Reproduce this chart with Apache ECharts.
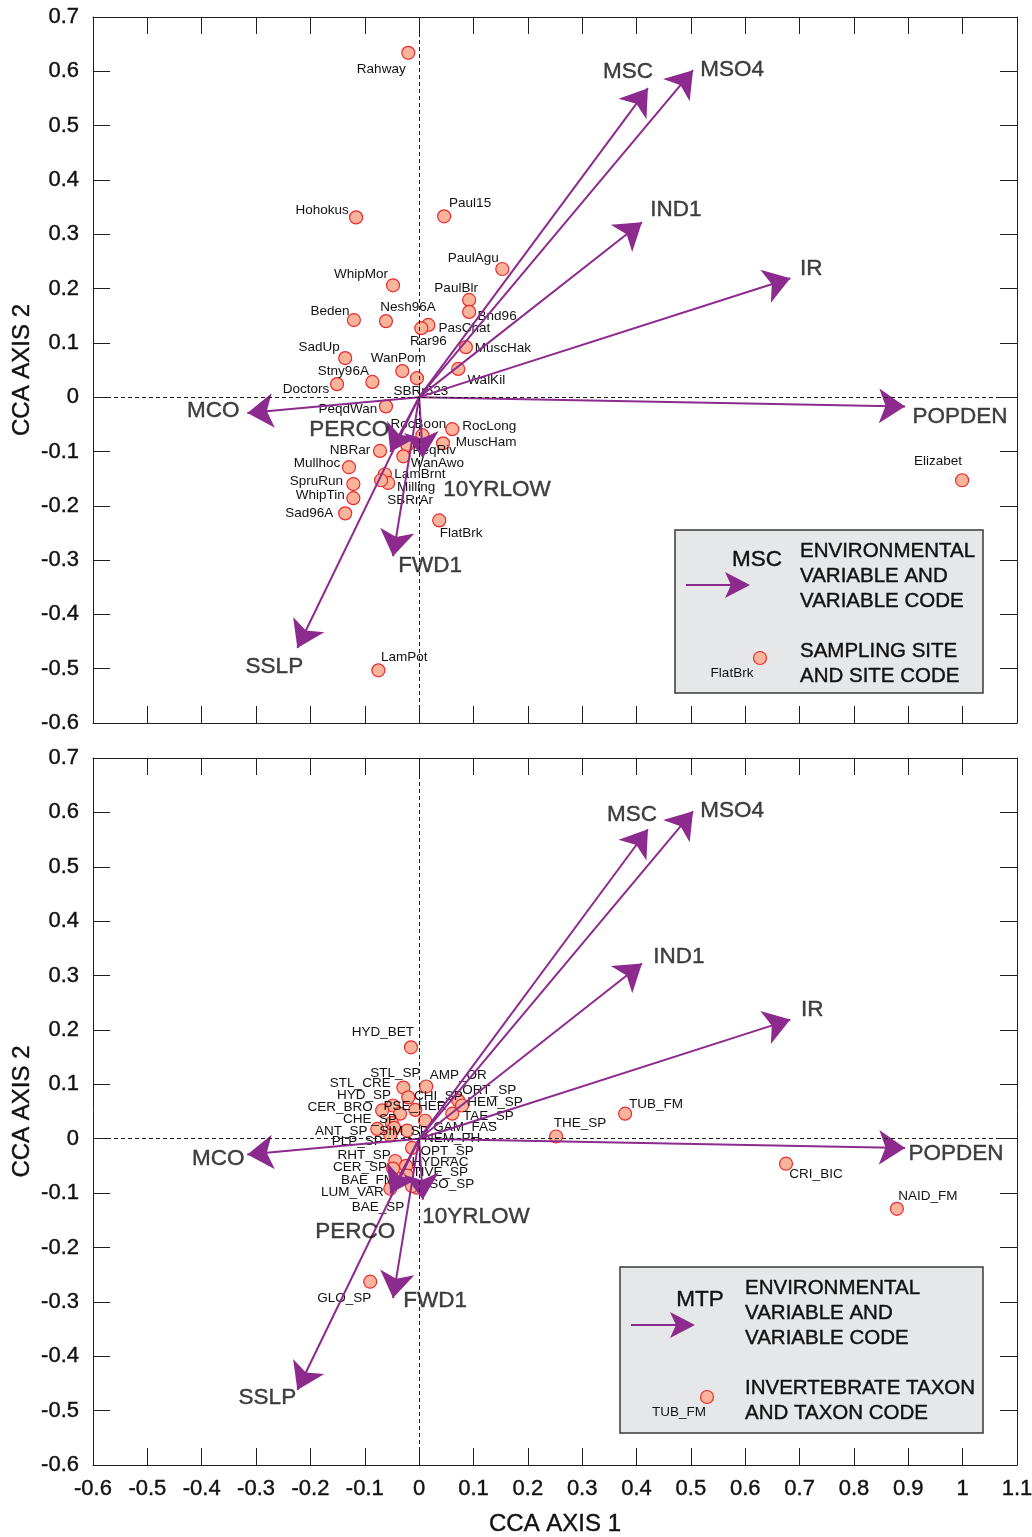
<!DOCTYPE html>
<html>
<head>
<meta charset="utf-8">
<script src="https://cdn.jsdelivr.net/npm/echarts@6/dist/echarts.min.js"></script>
<style>
  html, body { margin: 0; padding: 0; background: #fff; }
  #chart { width: 1032px; height: 1537px; }
</style>
</head>
<body>
<div id="chart"></div>
<script>
// environmental variables (same biplot vectors in both panels)
const envVars = ['MSC', 'MSO4', 'IND1', 'IR', 'POPDEN', 'MCO', 'SSLP', 'FWD1', 'PERCO', '10YRLOW'];
const envAxis1 = [0.421, 0.504, 0.410, 0.683, 0.894, -0.316, -0.224, -0.048, -0.053, 0.007];
const envAxis2 = [0.569, 0.602, 0.322, 0.219, -0.017, -0.029, -0.462, -0.293, -0.101, -0.112];

// sampling sites (top panel)
const sites = ['Rahway', 'Hohokus', 'Paul15', 'PaulAgu', 'WhipMor', 'PaulBlr', 'Bnd96', 'Beden', 'Nesh96A',
  'PasChat', 'Rar96', 'MuscHak', 'SadUp', 'WanPom', 'WalKil', 'Stny96A', 'Doctors', 'SBRr523', 'PeqdWan',
  'RocBoon', 'RocLong', 'MuscHam', 'NBRar', 'PeqRiv', 'WanAwo', 'Mullhoc', 'LamBrnt', 'Milling', 'SBRrAr',
  'SpruRun', 'WhipTin', 'Sad96A', 'FlatBrk', 'LamPot', 'Elizabet'];
const siteAxis1 = [-0.020, -0.116, 0.046, 0.153, -0.048, 0.092, 0.092, -0.120, -0.061,
  0.017, 0.004, 0.086, -0.136, -0.031, 0.072, -0.086, -0.151, -0.004, -0.061,
  0.006, 0.061, 0.044, -0.072, -0.022, -0.029, -0.129, -0.063, -0.057, -0.070,
  -0.121, -0.121, -0.136, 0.037, -0.075, 0.999];
const siteAxis2 = [0.634, 0.331, 0.333, 0.236, 0.206, 0.179, 0.157, 0.142, 0.140,
  0.133, 0.127, 0.092, 0.072, 0.048, 0.052, 0.028, 0.024, 0.035, -0.017,
  -0.070, -0.059, -0.085, -0.099, -0.088, -0.109, -0.129, -0.142, -0.158, -0.153,
  -0.160, -0.186, -0.214, -0.227, -0.503, -0.153];

// invertebrate taxa (bottom panel)
const taxa = ['HYD_BET', 'STL_SP', 'AMP_OR', 'STL_CRE', 'HYD_SP', 'CER_BRO', 'CHI_SP', 'PSE_HER', 'ORT_SP',
  'HEM_SP', 'TAE_SP', 'CHE_SP', 'GAM_FAS', 'ANT_SP', 'SIM_SP', 'PLP_SP', 'NEM_PH', 'OPT_SP', 'RHT_SP',
  'HYDRAC', 'CER_SP', 'TIVE_SP', 'BAE_FM', 'ISO_SP', 'LUM_VAR', 'BAE_SP', 'THE_SP', 'TUB_FM', 'CRI_BIC',
  'NAID_FM', 'GLO_SP'];
const taxaAxis1 = [-0.015, -0.029, 0.013, -0.020, -0.048, -0.068, -0.007, -0.035, 0.072,
  0.079, 0.061, -0.050, 0.011, -0.077, -0.046, -0.053, -0.022, -0.013, -0.044,
  -0.024, -0.048, -0.022, -0.035, -0.004, -0.053, -0.013, 0.252, 0.379, 0.675,
  0.879, -0.090];
const taxaAxis2 = [0.168, 0.094, 0.096, 0.076, 0.061, 0.052, 0.053, 0.046, 0.070,
  0.061, 0.046, 0.029, 0.033, 0.018, 0.020, 0.006, 0.015, -0.017, -0.041,
  -0.050, -0.055, -0.068, -0.074, -0.090, -0.092, -0.087, 0.004, 0.046, -0.046,
  -0.129, -0.263];

// label placement (pixel offsets from the mark)
const envLabelOffTop = [[-20, -16], [39, 0], [34, -12], [21, -9], [55, 10], [-34, -2], [-23, 19], [37, 10], [-41, -22], [74, 32]];
const envLabelOffBottom = [[-16, -14], [39, -1], [37, -7], [22, -10], [51, 6], [-29, 4], [-30, 8], [42, 3], [-35, 38], [53, 17]];
const siteLabelOff = [[-27, 16], [-34, -7], [26, -13], [-29, -11], [-32, -11], [-13, -12], [28, 4], [-24, -9], [22, -14],
  [36, 3], [7, 13], [37, 1], [-26, -11], [-4, -13], [28, 11], [-29, -11], [-31, 5], [4, 13], [-38, 3],
  [-4, -11], [37, -3], [43, -1], [-30, -1], [27, 5], [34, 7], [-32, -4], [35, 0], [28, 4], [29, 20],
  [-37, -3], [-33, -3], [-36, 0], [22, 13], [26, -13], [-24, -19]];
const taxaLabelOff = [[-28, -15], [-8, -14], [32, -11], [-48, -14], [-29, -10], [-42, -3], [23, -14], [15, -7], [31, -10],
  [33, -3], [36, 3], [-22, -4], [40, 7], [-36, 2], [10, 3], [-33, 6], [45, 8], [35, 3], [-31, -6],
  [34, -4], [-33, -1], [33, -3], [-32, 1], [33, -3], [-38, 4], [-34, 21], [24, -13], [31, -9], [30, 11],
  [31, -13], [-26, 17]];

const FONT = '"Liberation Sans", Arial, Helvetica, sans-serif';
const INK = '#111111';
const LINE = '#231f20';
const PURPLE = '#8c2a8e';
// thin outline so the big text looks as heavy as the printed original
const HEAVY = { textBorderColor: INK, textBorderWidth: 0.4 };

const chart = echarts.init(document.getElementById('chart'), null, { renderer: 'canvas' });

const grids = [
  { left: 93, top: 17, width: 924, height: 706, outerBoundsMode: 'none', containLabel: false },
  { left: 93, top: 758, width: 924, height: 707, outerBoundsMode: 'none', containLabel: false }
];

function xAxes(gi, showLabels) {
  const base = {
    gridIndex: gi, type: 'value', min: -0.6, max: 1.1, interval: 0.1,
    axisLine: { show: true, onZero: false, lineStyle: { color: LINE, width: 1 } },
    axisTick: { show: true, inside: true, length: 17, lineStyle: { color: LINE } },
    splitLine: { show: false }
  };
  return [
    Object.assign({}, base, {
      position: 'bottom',
      axisLabel: Object.assign({
        show: showLabels, fontSize: 22, color: INK, fontFamily: FONT, margin: 13,
        formatter: v => String(+v.toFixed(1))
      }, HEAVY),
      name: showLabels ? 'CCA AXIS 1' : '', nameLocation: 'middle', nameGap: 47, nameMoveOverlap: false,
      nameTextStyle: Object.assign({ fontSize: 24, color: INK, fontFamily: FONT }, HEAVY)
    }),
    Object.assign({}, base, { position: 'top', axisLabel: { show: false } })
  ];
}

function yAxes(gi) {
  const base = {
    gridIndex: gi, type: 'value', min: -0.6, max: 0.7, interval: 0.1,
    axisLine: { show: true, onZero: false, lineStyle: { color: LINE, width: 1 } },
    axisTick: { show: true, inside: true, length: 17, lineStyle: { color: LINE } },
    splitLine: { show: false }
  };
  return [
    Object.assign({}, base, {
      position: 'left',
      axisLabel: Object.assign({
        fontSize: 22, color: INK, fontFamily: FONT, margin: 14,
        formatter: v => String(+v.toFixed(1))
      }, HEAVY),
      name: 'CCA AXIS 2', nameLocation: 'middle', nameGap: 59, nameRotate: 90, nameMoveOverlap: false,
      nameTextStyle: Object.assign({ fontSize: 24, color: INK, fontFamily: FONT }, HEAVY)
    }),
    Object.assign({}, base, { position: 'right', axisLabel: { show: false } })
  ];
}

function zeroLines(gi) {
  return {
    type: 'line', xAxisIndex: gi * 2, yAxisIndex: gi * 2, data: [], z: 1,
    markLine: {
      silent: true, symbol: 'none', label: { show: false },
      lineStyle: { type: [4, 3], color: LINE, width: 1 },
      data: [{ xAxis: 0 }, { yAxis: 0 }]
    }
  };
}

function arrows(gi) {
  return {
    type: 'lines', coordinateSystem: 'cartesian2d', xAxisIndex: gi * 2, yAxisIndex: gi * 2, z: 4,
    symbol: ['none', 'arrow'], symbolSize: [22, 26],
    lineStyle: { color: PURPLE, width: 2, opacity: 1 },
    itemStyle: { color: PURPLE },
    data: envVars.map((n, i) => ({ coords: [[0, 0], [envAxis1[i], envAxis2[i]]] }))
  };
}

function arrowLabels(gi, offs) {
  return {
    type: 'scatter', xAxisIndex: gi * 2, yAxisIndex: gi * 2, z: 6, symbolSize: 1,
    itemStyle: { color: 'rgba(255,255,255,0)' }, silent: true,
    data: envVars.map((n, i) => ({
      value: [envAxis1[i], envAxis2[i]],
      label: Object.assign({
        show: true, position: 'inside', offset: offs[i], formatter: n,
        fontSize: 22.5, color: INK, fontFamily: FONT
      }, HEAVY)
    }))
  };
}

function points(gi, names, ax1, ax2, offs) {
  return {
    type: 'scatter', xAxisIndex: gi * 2, yAxisIndex: gi * 2, z: 3, symbolSize: 13,
    itemStyle: { color: '#f9b49b', borderColor: '#ec2a2e', borderWidth: 1.2, opacity: 1 },
    data: names.map((n, i) => ({
      value: [ax1[i], ax2[i]],
      label: {
        show: true, position: 'inside', offset: offs[i], formatter: n,
        fontSize: 13.5, color: INK, fontFamily: FONT, textBorderWidth: 0
      }
    }))
  };
}

function legendBox(x, y, w, h, code, lines1, lines2, ptLabel, codeX, arrowY, dot) {
  const big = (t, px) => ({ text: t, font: px + 'px ' + FONT, fill: INK, stroke: INK, lineWidth: 0.4 });
  const els = [
    { type: 'rect', shape: { x: x, y: y, width: w, height: h }, style: { fill: '#e6e7e8', stroke: '#3a3a3a', lineWidth: 1.5 }, z: 10 },
    { type: 'line', shape: { x1: x + 11, y1: arrowY, x2: x + 68, y2: arrowY }, style: { stroke: PURPLE, lineWidth: 2 }, z: 11 },
    { type: 'polygon', shape: { points: [[x + 75, arrowY], [x + 50, arrowY - 13], [x + 56, arrowY], [x + 50, arrowY + 13]] }, style: { fill: PURPLE }, z: 11 },
    { type: 'text', x: codeX, y: arrowY - 25, style: Object.assign(big(code, 22.5), { align: 'center', verticalAlign: 'middle' }), z: 11 },
    { type: 'circle', shape: { cx: dot[0], cy: dot[1], r: 6.5 }, style: { fill: '#f9b49b', stroke: '#ec2a2e', lineWidth: 1.2 }, z: 11 },
    { type: 'text', x: dot[0] - 28, y: dot[1] + 15, style: { text: ptLabel, font: '13.5px ' + FONT, fill: INK, align: 'center', verticalAlign: 'middle' }, z: 11 }
  ];
  lines1.forEach((t, i) => els.push({ type: 'text', x: x + 125, y: y + 21 + i * 25, style: Object.assign(big(t, 20.5), { verticalAlign: 'middle' }), z: 11 }));
  lines2.forEach((t, i) => els.push({ type: 'text', x: x + 125, y: y + 121 + i * 25, style: Object.assign(big(t, 20.5), { verticalAlign: 'middle' }), z: 11 }));
  return els;
}

const graphics = []
  .concat(legendBox(675, 530, 308, 163, 'MSC', ['ENVIRONMENTAL', 'VARIABLE AND', 'VARIABLE CODE'],
    ['SAMPLING SITE', 'AND SITE CODE'], 'FlatBrk', 757, 585, [760, 658]))
  .concat(legendBox(620, 1267, 363, 166, 'MTP', ['ENVIRONMENTAL', 'VARIABLE AND', 'VARIABLE CODE'],
    ['INVERTEBRATE TAXON', 'AND TAXON CODE'], 'TUB_FM', 700, 1325, [707, 1397]));

chart.setOption({
  animation: false,
  backgroundColor: '#fff',
  textStyle: { fontFamily: FONT },
  grid: grids,
  xAxis: xAxes(0, false).concat(xAxes(1, true)),
  yAxis: yAxes(0).concat(yAxes(1)),
  series: [
    zeroLines(0), zeroLines(1),
    points(0, sites, siteAxis1, siteAxis2, siteLabelOff),
    points(1, taxa, taxaAxis1, taxaAxis2, taxaLabelOff),
    arrows(0), arrows(1),
    arrowLabels(0, envLabelOffTop), arrowLabels(1, envLabelOffBottom)
  ],
  graphic: graphics
});
</script>
</body>
</html>
